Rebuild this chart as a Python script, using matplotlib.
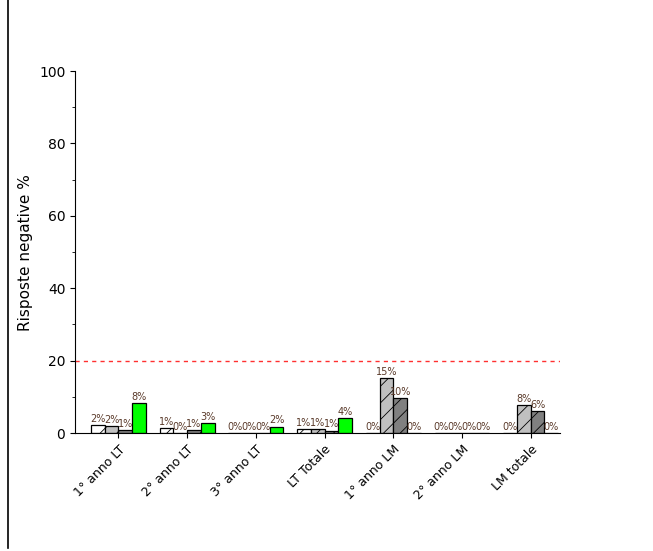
import matplotlib.pyplot as plt
import numpy as np

categories = ["1° anno LT", "2° anno LT", "3° anno LT", "LT Totale",
              "1° anno LM", "2° anno LM", "LM totale"]
s1 = [2.2, 1.4, 0.0, 1.2, 0.0, 0.0, 0.0]
s2 = [2.0, 0.0, 0.0, 1.0, 15.3, 0.0, 7.8]
s3 = [0.8, 0.8, 0.0, 0.7, 9.6, 0.0, 6.2]
s4 = [8.2, 2.8, 1.8, 4.1, 0.0, 0.0, 0.0]
series = [s1, s2, s3, s4]
colors = ["white", "#c0c0c0", "#808080", "#00ff00"]
hatches = ["//", "//", "//", None]

plt.rcParams["hatch.color"] = "#404040"
plt.rcParams["hatch.linewidth"] = 0.6

fig = plt.figure(figsize=(6.53, 5.51), dpi=100)
fig.add_artist(plt.Line2D([0.012, 0.012], [0.005, 1.0], color="black", lw=1.2))
ax = fig.add_axes([0.115, 0.214, 0.743, 0.657])

x = np.arange(len(categories))
w = 0.2
for i, vals in enumerate(series):
    pos = x + (i - 1.5) * w
    ax.bar(pos, vals, width=w, color=colors[i], edgecolor="black",
           linewidth=0.9, hatch=hatches[i], zorder=2)
    for p, v in zip(pos, vals):
        ax.text(p, v + 0.3, f"{round(v):.0f}%", ha="center", va="bottom",
                fontsize=7, color="#5a3a2a")

ax.axhline(20, color="#ff3030", ls=(0, (3, 3)), lw=1)
ax.set_xlim(-0.63, 6.43)
ax.set_ylim(0, 100)
ax.set_yticks([0, 20, 40, 60, 80, 100])
ax.set_yticks([10, 30, 50, 70, 90], minor=True)
ax.set_xticks(x)
ax.set_xticklabels(categories, rotation=45, ha="right", rotation_mode="anchor", fontsize=9)
ax.tick_params(axis="y", labelsize=10)
ax.set_ylabel("Risposte negative %", fontsize=11)
ax.spines["top"].set_visible(False)
ax.spines["right"].set_visible(False)
fig.savefig("out.png")
